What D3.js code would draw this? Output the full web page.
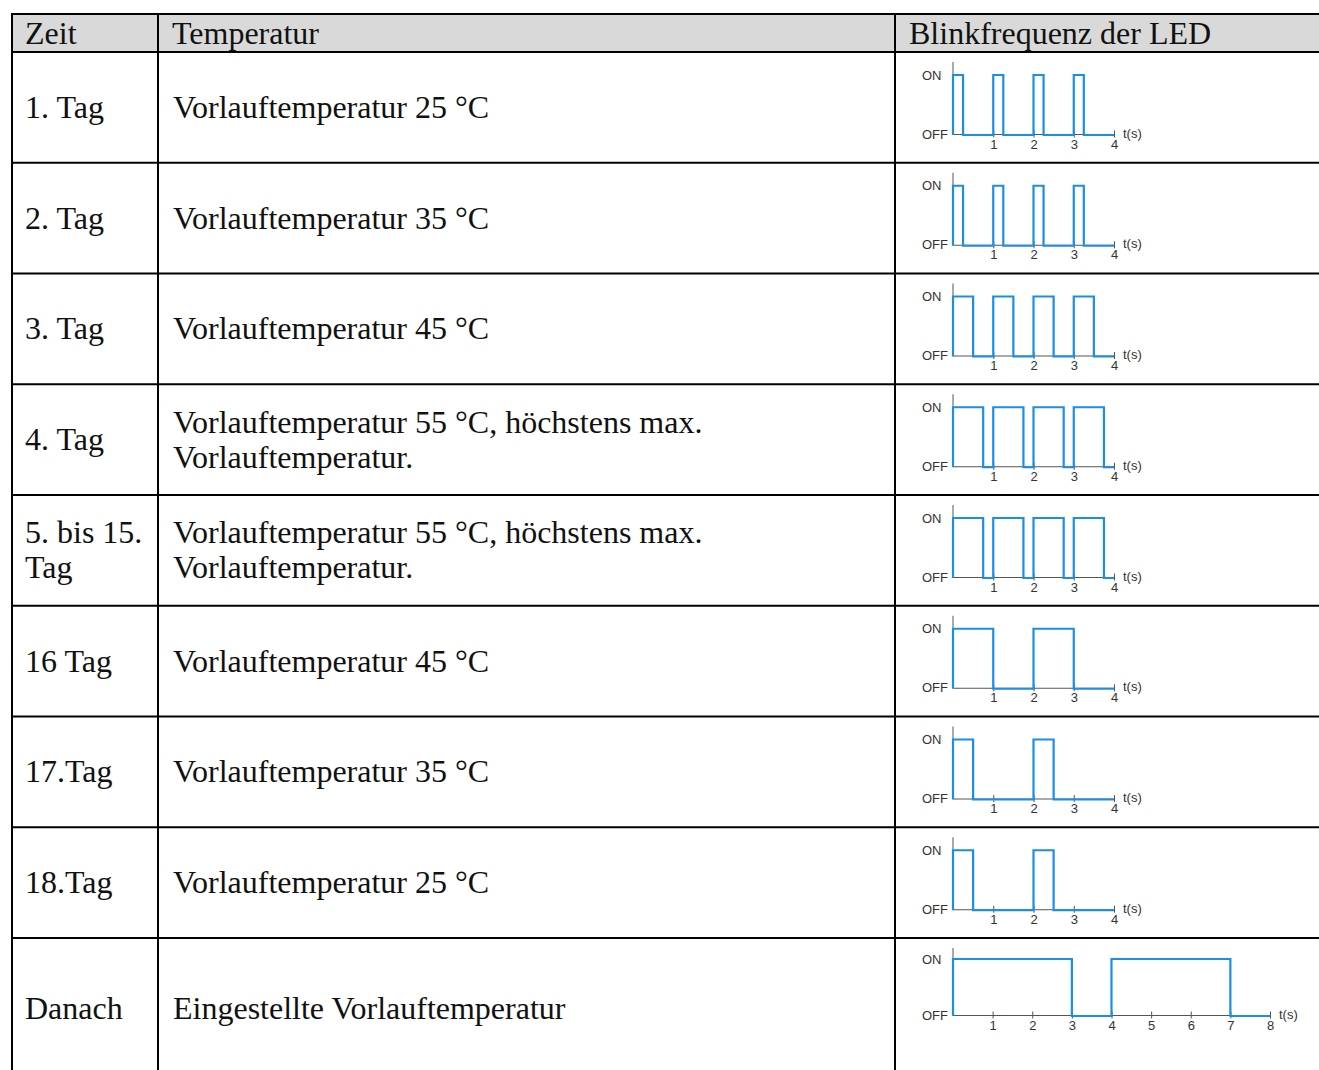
<!DOCTYPE html>
<html lang="de">
<head>
<meta charset="utf-8" />
<title>Blinkfrequenz der LED</title>
<script src="https://cdn.jsdelivr.net/npm/d3@7"></script>
<style>
  body { margin: 0; background: #fff; }
</style>
</head>
<body>
<div id="root"></div>
<script>
// table content
const headers = ["Zeit", "Temperatur", "Blinkfrequenz der LED"];
const zeit = [["1. Tag"], ["2. Tag"], ["3. Tag"], ["4. Tag"], ["5. bis 15.", "Tag"],
  ["16 Tag"], ["17.Tag"], ["18.Tag"], ["Danach"]];
const temperatur = [
  ["Vorlauftemperatur 25 °C"],
  ["Vorlauftemperatur 35 °C"],
  ["Vorlauftemperatur 45 °C"],
  ["Vorlauftemperatur 55 °C, höchstens max.", "Vorlauftemperatur."],
  ["Vorlauftemperatur 55 °C, höchstens max.", "Vorlauftemperatur."],
  ["Vorlauftemperatur 45 °C"],
  ["Vorlauftemperatur 35 °C"],
  ["Vorlauftemperatur 25 °C"],
  ["Eingestellte Vorlauftemperatur"]
];
// LED ON intervals in seconds, per row
const pulses = [
  [[0, 0.25], [1, 1.25], [2, 2.25], [3, 3.25]],
  [[0, 0.25], [1, 1.25], [2, 2.25], [3, 3.25]],
  [[0, 0.5], [1, 1.5], [2, 2.5], [3, 3.5]],
  [[0, 0.75], [1, 1.75], [2, 2.75], [3, 3.75]],
  [[0, 0.75], [1, 1.75], [2, 2.75], [3, 3.75]],
  [[0, 1], [2, 3]],
  [[0, 0.5], [2, 2.5]],
  [[0, 0.5], [2, 2.5]],
  [[0, 3], [4, 7]]
];
const tMax = [4, 4, 4, 4, 4, 4, 4, 4, 8];
const levels = ["OFF", "ON"];

const W = 1319, H = 1070;
const tblLeft = 12, tblTop = 14, headH = 38;
const colX = [12, 158, 895, W + 10];
const rowH = 110.75, lastRowH = 140;
const rowTop = i => tblTop + headH + i * rowH;
const rowHeight = i => i === zeit.length - 1 ? lastRowH : rowH;
const serif = "'Liberation Serif', 'Times New Roman', serif";
const sans = "'Liberation Sans', Arial, sans-serif";
const blue = "#1a8fe3";
const fs = 32;

const svg = d3.select("#root").append("svg")
    .attr("width", W)
    .attr("height", H)
    .attr("viewBox", [0, 0, W, H]);

// header background
svg.append("rect")
    .attr("x", tblLeft).attr("y", tblTop)
    .attr("width", colX[3] - tblLeft).attr("height", headH)
    .attr("fill", "#d9d9d9");

svg.append("g")
    .attr("font-family", serif)
    .attr("font-size", fs)
    .attr("fill", "#111")
  .selectAll("text")
  .data(headers)
  .join("text")
    .attr("x", (d, i) => colX[i] + (i === 0 ? 13 : 14))
    .attr("y", tblTop + headH / 2)
    .attr("dy", "0.33em")
    .text(d => d);

// cell text
function cellText(g, lines, x, i) {
  const cy = rowTop(i) + rowHeight(i) / 2;
  const lh = 35;
  g.selectAll(null)
    .data(lines)
    .join("text")
      .attr("x", x)
      .attr("y", (d, k) => cy + (k - (lines.length - 1) / 2) * lh)
      .attr("dy", "0.33em")
      .text(d => d);
}

const body = svg.append("g")
    .attr("font-family", serif)
    .attr("font-size", fs)
    .attr("fill", "#111");

zeit.forEach((lines, i) => cellText(body.append("g"), lines, colX[0] + 13, i));
temperatur.forEach((lines, i) => cellText(body.append("g"), lines, colX[1] + 15, i));

// LED waveforms
pulses.forEach((p, i) => {
  const y0 = rowTop(i);
  const last = i === pulses.length - 1;
  const x = d3.scaleLinear()
      .domain([0, tMax[i]])
      .range([953, last ? 1270 : 1114]);
  const y = d3.scalePoint()
      .domain(levels)
      .range(last ? [y0 + 77, y0 + 21] : [y0 + 82, y0 + 23]);

  const g = svg.append("g")
      .attr("font-family", sans)
      .attr("font-size", 13)
      .attr("fill", "#333");

  // axes
  g.append("line")
      .attr("x1", x(0)).attr("x2", x(0))
      .attr("y1", y0 + 10).attr("y2", y("OFF"))
      .attr("stroke", "#555").attr("stroke-width", 1);

  const xAxis = d3.axisBottom(x)
      .tickValues(d3.range(1, tMax[i] + 1))
      .tickSize(0)
      .tickPadding(0)
      .tickFormat("");
  const ax = g.append("g")
      .attr("transform", `translate(0,${y("OFF")})`)
      .call(xAxis);
  ax.select(".domain").attr("stroke", "#555").attr("stroke-width", 1);
  ax.selectAll(".tick line")
      .attr("y1", -3.5).attr("y2", 3.5)
      .attr("stroke", "#555");
  ax.selectAll(".tick").append("text")
      .attr("y", 14.5)
      .attr("fill", "#333")
      .attr("font-size", 13)
      .attr("text-anchor", "middle")
      .text(d => d);

  g.selectAll(".lvl")
    .data(levels)
    .join("text")
      .attr("class", "lvl")
      .attr("x", 922)
      .attr("y", d => y(d))
      .attr("dy", "0.35em")
      .text(d => d);

  g.append("text")
      .attr("x", x(tMax[i]) + 9)
      .attr("y", y("OFF") - 1)
      .attr("dy", "0.35em")
      .text("t(s)");

  // step signal
  const pts = [[0, "OFF"]];
  p.forEach(([a, b]) => {
    pts.push([a, "OFF"], [a, "ON"], [b, "ON"], [b, "OFF"]);
  });
  pts.push([tMax[i], "OFF"]);

  const line = d3.line()
      .x(d => x(d[0]))
      .y(d => y(d[1]) + (d[1] === "OFF" ? 1 : 0));

  svg.append("path")
      .datum(pts)
      .attr("d", line)
      .attr("fill", "none")
      .attr("stroke", blue)
      .attr("stroke-width", 2.2);
});

// grid lines
const grid = svg.append("g").attr("stroke", "#000").attr("stroke-width", 2);
const tblBottom = rowTop(zeit.length - 1) + lastRowH;
grid.selectAll(".h")
  .data([tblTop, tblTop + headH].concat(d3.range(1, zeit.length).map(rowTop)))
  .join("line")
    .attr("x1", tblLeft - 1).attr("x2", W + 10)
    .attr("y1", d => d).attr("y2", d => d);
grid.selectAll(".v")
  .data(colX.slice(0, 3))
  .join("line")
    .attr("x1", d => d).attr("x2", d => d)
    .attr("y1", tblTop).attr("y2", tblBottom);
</script>
</body>
</html>
